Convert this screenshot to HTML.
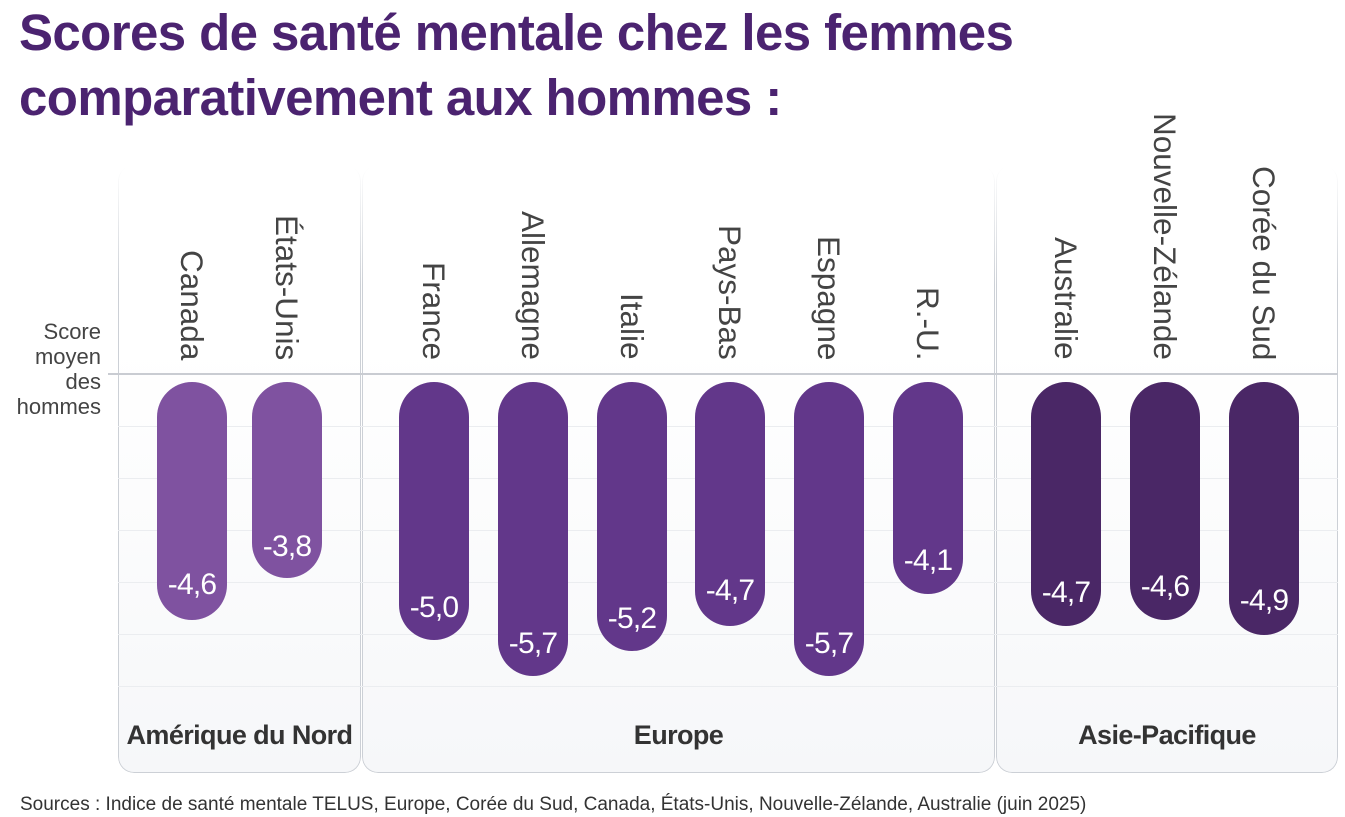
<!DOCTYPE html>
<html><head><meta charset="utf-8"><style>
body{margin:0;width:1345px;height:817px;background:#fff;position:relative;overflow:hidden;font-family:"Liberation Sans",sans-serif}
.t{position:absolute;left:19px;top:0px;font-size:51px;font-weight:bold;color:#4b2370;line-height:65px;letter-spacing:-0.6px}
.p{position:absolute;top:165px;height:608px;border-radius:16px;border:1px solid #ccd0d6;border-top:none;background:linear-gradient(#fff 0%,#fff 30%,#f6f7f9 100%);box-sizing:border-box;
-webkit-mask-image:linear-gradient(transparent 0,#000 120px);mask-image:linear-gradient(transparent 0,#000 120px)}
.g{position:absolute;left:118px;width:1220px;height:1px;background:#ebedf0}
.b{position:absolute;top:382px;width:70px;border-radius:35px}
.v{position:absolute;width:90px;text-align:center;color:#fff;font-size:30px;letter-spacing:-0.8px}
.l{position:absolute;writing-mode:vertical-rl;font-size:31.5px;color:#444;bottom:457px;width:36px;line-height:36px}
.r{position:absolute;top:720px;font-size:27px;font-weight:bold;color:#333;text-align:center;letter-spacing:-0.6px}
</style></head><body>
<div class="t">Scores de santé mentale chez les femmes<br>comparativement aux hommes :</div>
<div class="p" style="left:118px;width:243px"></div>
<div class="p" style="left:362px;width:633px"></div>
<div class="p" style="left:996px;width:342px"></div>
<div class="g" style="top:426px"></div><div class="g" style="top:478px"></div><div class="g" style="top:530px"></div><div class="g" style="top:582px"></div><div class="g" style="top:634px"></div><div class="g" style="top:686px"></div>
<div style="position:absolute;left:108px;width:1230px;top:373px;height:1.5px;background:#c9ccd2"></div>
<div style="position:absolute;left:0;width:101px;top:319px;text-align:right;font-size:22px;line-height:25px;color:#444">Score<br>moyen<br>des<br>hommes</div>

<div class="b" style="left:157px;height:238px;background:#7f52a0"></div><div class="v" style="left:147px;top:568px">-4,6</div>
<div class="b" style="left:252px;height:196px;background:#7f52a0"></div><div class="v" style="left:242px;top:530px">-3,8</div>
<div class="b" style="left:399px;height:258px;background:#62378a"></div><div class="v" style="left:389px;top:591px">-5,0</div>
<div class="b" style="left:498px;height:294px;background:#62378a"></div><div class="v" style="left:488px;top:627px">-5,7</div>
<div class="b" style="left:597px;height:269px;background:#62378a"></div><div class="v" style="left:587px;top:602px">-5,2</div>
<div class="b" style="left:695px;height:244px;background:#62378a"></div><div class="v" style="left:685px;top:574px">-4,7</div>
<div class="b" style="left:794px;height:294px;background:#62378a"></div><div class="v" style="left:784px;top:627px">-5,7</div>
<div class="b" style="left:893px;height:212px;background:#62378a"></div><div class="v" style="left:883px;top:544px">-4,1</div>
<div class="b" style="left:1031px;height:244px;background:#4a2766"></div><div class="v" style="left:1021px;top:576px">-4,7</div>
<div class="b" style="left:1130px;height:238px;background:#4a2766"></div><div class="v" style="left:1120px;top:570px">-4,6</div>
<div class="b" style="left:1229px;height:253px;background:#4a2766"></div><div class="v" style="left:1219px;top:584px">-4,9</div>

<div class="l" style="left:174px">Canada</div>
<div class="l" style="left:269px">États-Unis</div>
<div class="l" style="left:416px">France</div>
<div class="l" style="left:515px">Allemagne</div>
<div class="l" style="left:614px">Italie</div>
<div class="l" style="left:712px">Pays-Bas</div>
<div class="l" style="left:811px">Espagne</div>
<div class="l" style="left:910px">R.-U.</div>
<div class="l" style="left:1048px">Australie</div>
<div class="l" style="left:1147px">Nouvelle-Zélande</div>
<div class="l" style="left:1246px">Corée du Sud</div>

<div class="r" style="left:118px;width:243px">Amérique du Nord</div>
<div class="r" style="left:362px;width:633px">Europe</div>
<div class="r" style="left:996px;width:342px">Asie-Pacifique</div>
<div style="position:absolute;left:20px;top:794px;font-size:19px;color:#333">Sources : Indice de santé mentale TELUS, Europe, Corée du Sud, Canada, États-Unis, Nouvelle-Zélande, Australie (juin 2025)</div>
</body></html>
